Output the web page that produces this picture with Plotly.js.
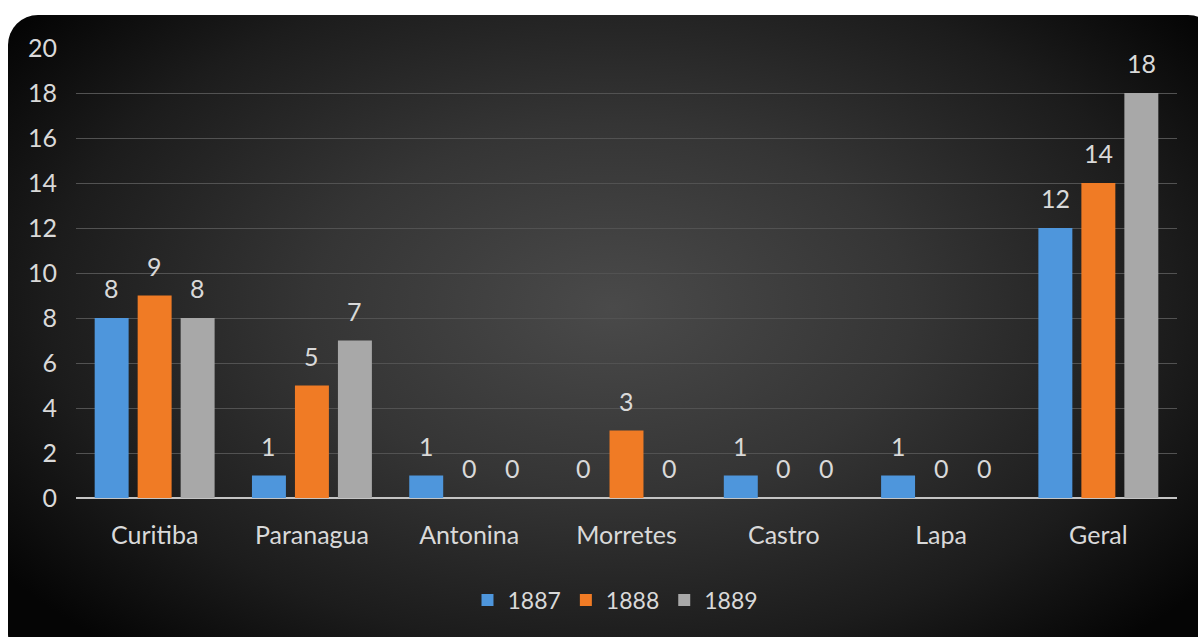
<!DOCTYPE html>
<html>
<head>
<meta charset="utf-8">
<script src="https://cdn.plot.ly/plotly-3.0.1.min.js"></script>
<style>
  html, body { margin: 0; padding: 0; background: #ffffff; overflow: hidden; }
  #panel {
    position: absolute; left: 8px; top: 15px; width: 1210px; height: 650px;
    border-radius: 30px;
    background: radial-gradient(ellipse 62% 70% at 50% 45%, #4a4a4a 0%, #353535 40%, #1c1c1c 75%, #050505 100%);
  }
  #chart { position: absolute; left: 0; top: 0; width: 1198px; height: 637px; }
</style>
</head>
<body>
<div id="panel"></div>
<div id="chart"></div>
<script>
// Municipalities and yearly counts
const categories = ["Curitiba", "Paranagua", "Antonina", "Morretes", "Castro", "Lapa", "Geral"];
const values1887 = [8, 1, 1, 0, 1, 1, 12];
const values1888 = [9, 5, 0, 3, 0, 0, 14];
const values1889 = [8, 7, 0, 0, 0, 0, 18];
const seriesNames = ["1887", "1888", "1889"];
const seriesColors = ["#4e96dc", "#f07b25", "#a8a8a8"];
const allSeries = [values1887, values1888, values1889];

const labelFont = { family: "Lato, 'Open Sans', sans-serif", size: 25, color: "#d9d9d9" };
const legendFont = { family: "Lato, 'Open Sans', sans-serif", size: 23, color: "#d9d9d9" };
const barGap = 0.18;

const traces = allSeries.map((vals, i) => ({
  type: "bar",
  name: seriesNames[i],
  x: categories,
  y: vals,
  marker: { color: seriesColors[i], line: { width: 0 } },
  hoverinfo: "skip"
}));

// Value labels above each bar, placed at the bar's slot within its group
const slot = (1 - barGap) / allSeries.length;
const annotations = [];
allSeries.forEach((vals, s) => {
  vals.forEach((v, c) => {
    annotations.push({
      xref: "x", yref: "y",
      x: c + (s - (allSeries.length - 1) / 2) * slot,
      y: v,
      text: String(v),
      showarrow: false,
      xanchor: "center", yanchor: "bottom",
      yshift: 13,
      font: labelFont
    });
  });
});

const layout = {
  width: 1198,
  height: 637,
  margin: { l: 76, r: 21, t: 48, b: 139 },
  paper_bgcolor: "rgba(0,0,0,0)",
  plot_bgcolor: "rgba(0,0,0,0)",
  barmode: "group",
  bargap: barGap,
  bargroupgap: 0.21,
  font: labelFont,
  annotations: annotations,
  xaxis: {
    type: "category",
    showgrid: false,
    showline: false,
    ticks: "",
    tickfont: labelFont,
    ticklabelstandoff: 20
  },
  yaxis: {
    range: [0, 20],
    dtick: 2,
    showgrid: true,
    gridcolor: "#525252",
    gridwidth: 1,
    zeroline: true,
    zerolinecolor: "#c4c4c4",
    zerolinewidth: 2,
    showline: false,
    ticks: "",
    tickfont: labelFont,
    ticklabelstandoff: 18
  },
  showlegend: true,
  legend: {
    orientation: "h",
    x: 0.49, xanchor: "center",
    y: -0.227, yanchor: "middle",
    font: legendFont,
    bgcolor: "rgba(0,0,0,0)",
    itemwidth: 30,
    traceorder: "normal"
  }
};

Plotly.newPlot("chart", traces, layout, { displayModeBar: false, staticPlot: true });
</script>
</body>
</html>
